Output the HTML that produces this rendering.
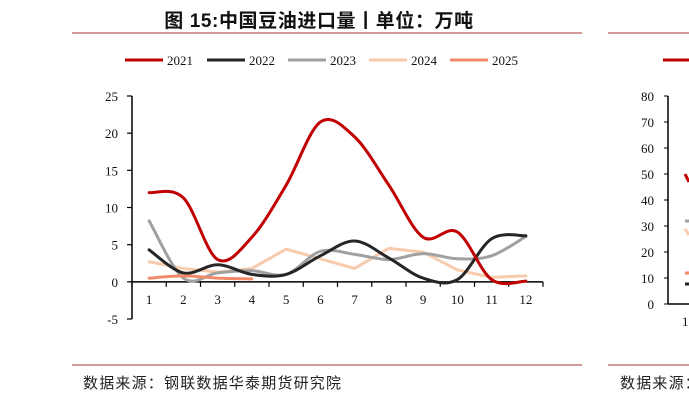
<!DOCTYPE html>
<html><head><meta charset="utf-8"><style>
body{margin:0;background:#fff;}
svg{display:block;font-family:"Liberation Serif",serif;}
.cjk{font-family:"Liberation Sans","Noto Sans CJK SC",sans-serif;}
</style></head><body>
<svg width="689" height="401" viewBox="0 0 689 401">
<text class="cjk" x="319" y="27" text-anchor="middle" font-size="19" font-weight="bold" letter-spacing="0.6" fill="#111">图 15:中国豆油进口量丨单位：万吨</text>
<line x1="72" y1="33" x2="582" y2="33" stroke="#d49a9a" stroke-width="2"/>
<line x1="608" y1="33" x2="689" y2="33" stroke="#d49a9a" stroke-width="2"/>
<text class="cjk" x="684" y="27" font-size="18" font-weight="bold" fill="#111">丨</text>
<g id="legend"></g>
<g id="yaxis"></g>
<g id="xaxis"></g>
<g id="series"></g>
<g id="right"></g>
<line x1="72" y1="365" x2="582" y2="365" stroke="#d49a9a" stroke-width="2"/>
<line x1="608" y1="365" x2="689" y2="365" stroke="#d49a9a" stroke-width="2"/>
<text class="cjk" x="83" y="388" font-size="15" letter-spacing="1.2" fill="#222">数据来源：钢联数据华泰期货研究院</text>
<text class="cjk" x="620" y="388" font-size="15" letter-spacing="1.2" fill="#222">数据来源：</text>
</svg>
<script>
const months=["1","2","3","4","5","6","7","8","9","10","11","12"];
const yTicks=[-5,0,5,10,15,20,25];
const s2021=[12,11.3,3,6,13,21.5,19.5,13,6,6.7,0.3,0.1];
const s2022=[4.3,1.2,2.3,1.0,1.0,3.5,5.5,3.2,0.5,0.3,5.8,6.2];
const s2023=[8.2,0.5,1.2,1.5,1.0,4.1,3.7,3.0,3.8,3.1,3.5,6.1];
const s2024=[2.7,1.8,1.3,1.8,4.4,3.1,1.8,4.5,4.0,1.6,0.6,0.8];
const s2025=[0.5,0.8,0.5,0.4];
const seriesNames=["2021","2022","2023","2024","2025"];
const rightTicks=[0,10,20,30,40,50,60,70,80];
const NS="http://www.w3.org/2000/svg";
const X0=132,X1=543,Y0=-5,Y1=25,PT=96,PB=319;
const step=(X1-X0)/12;
const xs=i=>X0+step*(i+0.5);
const ys=v=>PB-(v-Y0)/(Y1-Y0)*(PB-PT);
function mk(t,a,p){const e=document.createElementNS(NS,t);for(const k in a)e.setAttribute(k,a[k]);p.appendChild(e);return e;}
const ya=document.getElementById('yaxis'),xa=document.getElementById('xaxis'),sg=document.getElementById('series'),lg=document.getElementById('legend');
const yl=mk('line',{x1:X0,y1:PT,x2:X0,y2:PB,stroke:'#000','stroke-width':1.5},ya);


yTicks.forEach(v=>{
 mk('line',{x1:X0-5,y1:ys(v),x2:X0,y2:ys(v),stroke:'#000','stroke-width':1.2},ya);
 const t=mk('text',{x:X0-14,y:ys(v)+5,'text-anchor':'end','font-size':13,fill:'#111'},ya);t.textContent=v;
 
 
});
const xl=mk('line',{x1:X0,y1:ys(0),x2:X1,y2:ys(0),stroke:'#000','stroke-width':1.5},xa);


for(let k=0;k<=12;k++)mk('line',{x1:X0+step*k,y1:ys(0),x2:X0+step*k,y2:ys(0)+5,stroke:'#000','stroke-width':1.2},xa);
months.forEach((m,i)=>{const t=mk('text',{x:xs(i),y:ys(0)+22,'text-anchor':'middle','font-size':13,fill:'#111'},xa);t.textContent=m;
 
 });
function smooth(pts){let d=`M${pts[0][0]},${pts[0][1]}`;for(let i=0;i<pts.length-1;i++){const p0=pts[i-1]||pts[i],p1=pts[i],p2=pts[i+1],p3=pts[i+2]||p2;
 d+=` C${p1[0]+(p2[0]-p0[0])/6},${p1[1]+(p2[1]-p0[1])/6} ${p2[0]-(p3[0]-p1[0])/6},${p2[1]-(p3[1]-p1[1])/6} ${p2[0]},${p2[1]}`;}return d;}
function straight(pts){return 'M'+pts.map(p=>p.join(',')).join(' L');}
const data=[s2021,s2022,s2023,s2024,s2025];
const colors=['#c00000','#262626','#a0a0a0','#f8cbad','#f4896a'];
const smoothFlag=[true,true,true,false,true];
[3,2,1,4,0].forEach(j=>{const pts=data[j].map((v,i)=>[xs(i),ys(v)]);
 const p=mk('path',{d:smoothFlag[j]?smooth(pts):straight(pts),fill:'none',stroke:colors[j],'stroke-width':3,'stroke-linejoin':'round','stroke-linecap':'round'},sg);
 
 });
const lx=[125,207,288,369,450];
seriesNames.forEach((n,j)=>{const g=mk('g',{},lg);
 
 
 mk('line',{x1:lx[j],y1:60,x2:lx[j]+38,y2:60,stroke:colors[j],'stroke-width':3},g);
 const t=mk('text',{x:lx[j]+42,y:65,'font-size':13,fill:'#111'},g);t.textContent=n;});
const rg=document.getElementById('right');
const RB=304,RT=96,RX=668;
const ry=v=>RB-v/80*(RB-RT);
mk('line',{x1:RX,y1:RT,x2:RX,y2:RB,stroke:'#000','stroke-width':1.5},rg);
mk('line',{x1:RX,y1:RB,x2:689,y2:RB,stroke:'#000','stroke-width':1.5},rg);
rightTicks.forEach(v=>{mk('line',{x1:RX-4,y1:ry(v),x2:RX,y2:ry(v),stroke:'#000'},rg);
 const t=mk('text',{x:RX-14,y:ry(v)+5,'text-anchor':'end','font-size':13,fill:'#111'},rg);t.textContent=v;
 
 });
const t1=mk('text',{x:682,y:326,'font-size':13,fill:'#111'},rg);t1.textContent='1';
mk('line',{x1:663,y1:60,x2:689,y2:60,stroke:'#c00000','stroke-width':3},rg);
mk('line',{x1:685,y1:174,x2:689,y2:182,stroke:'#c00000','stroke-width':3},rg);
mk('line',{x1:685,y1:221,x2:689,y2:221,stroke:'#a0a0a0','stroke-width':3},rg);
mk('line',{x1:685,y1:229,x2:689,y2:235,stroke:'#f8cbad','stroke-width':3},rg);
mk('line',{x1:685,y1:273,x2:689,y2:273,stroke:'#f4896a','stroke-width':3},rg);
mk('line',{x1:685,y1:284,x2:689,y2:284,stroke:'#262626','stroke-width':3},rg);
</script>
</body></html>
